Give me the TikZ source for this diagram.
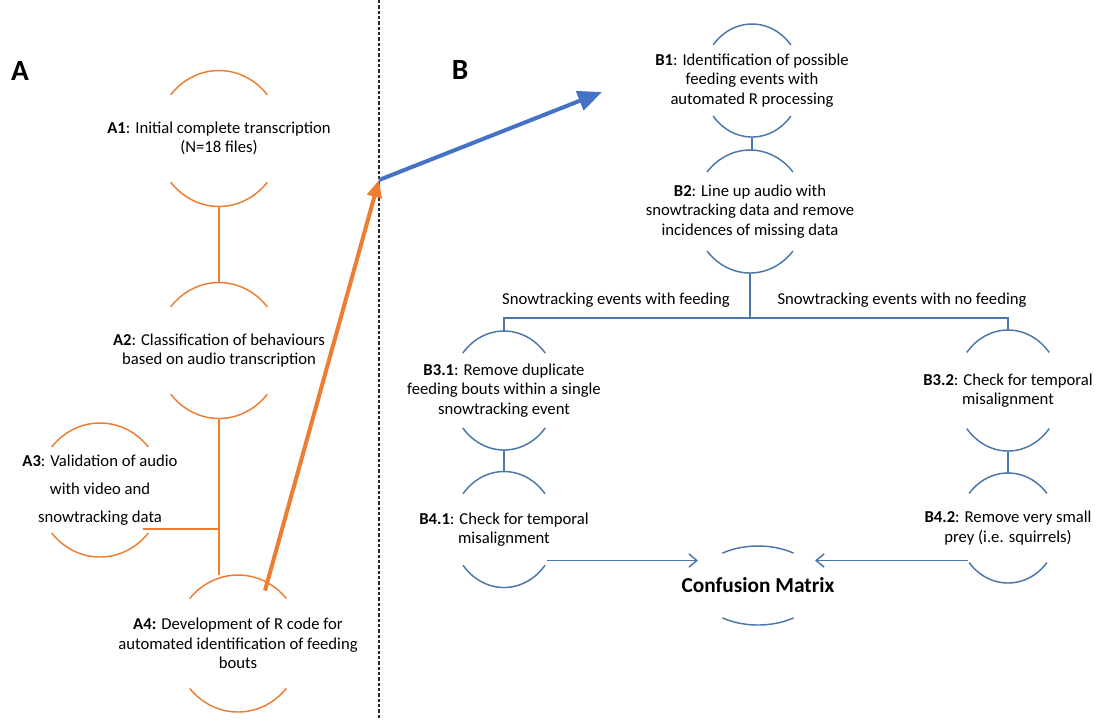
\documentclass[tikz,border=0pt]{standalone}
\usepackage{fontspec}
\setmainfont{Carlito}
\usetikzlibrary{arrows.meta}
\definecolor{orA}{HTML}{ED7D31}
\definecolor{blA}{HTML}{4472C4}
\definecolor{blL}{HTML}{4A76A8}
\newcommand\capshape[6]{%
 \begin{scope}[shift={(#1.center)}]
  \draw[#6, line width=1.1pt] plot[domain=#4:#5, samples=40, smooth] ({#2*cos(\x)},{-#3*sin(\x)});
  \draw[#6, line width=1.1pt] plot[domain=#4:#5, samples=40, smooth] ({#2*cos(\x)},{#3*sin(\x)});
  \coordinate (#1-top) at (0,-#3);
  \coordinate (#1-bot) at (0,#3);
 \end{scope}}
\begin{document}
\begin{tikzpicture}[x=0.75pt,y=-0.75pt,
  txt/.style={inner sep=0pt, align=center, font=\fontsize{12.5}{14.6}\selectfont, text=black},
  oline/.style={draw=orA, line width=1.1pt},
  bline/.style={draw=blL, line width=1.1pt},
  bigarrow/.style={line width=3pt},
  smallhead/.style={-{Straight Barb[length=6pt,width=10pt,line width=1.1pt]}}]
\useasboundingbox (0,0) rectangle (1102,719);
\fill[white] (0,0) rectangle (1102,719);

% divider
\coordinate (dtop) at (379,0);
\coordinate (dbot) at (379,719);
\draw[black!85, line width=0.9pt, dash pattern=on 2.4pt off 1.6pt] (dtop) -- (dbot);

% panel letters
\node[font=\fontsize{22}{26}\selectfont\bfseries] (LA) at (20,71) {A};
\node[font=\fontsize{22}{26}\selectfont\bfseries] (LB) at (460,70) {B};

% ---- panel A ----
\node[txt] (A1) at (219,138.5) {\textbf{A1}: Initial complete transcription\\(N=18 files)};
\node[txt] (A2) at (219,350.5) {\textbf{A2}: Classification of behaviours\\based on audio transcription};
\node[txt, font=\fontsize{12.5}{21}\selectfont] (A3) at (100,490) {\textbf{A3}: Validation of audio\\with video and\\snowtracking data};
\node[txt] (A4) at (238,643.5) {\textbf{A4:} Development of R code for\\automated identification of feeding\\bouts};
\capshape{A1}{63}{68}{40}{140}{orA}
\capshape{A2}{63}{68}{40}{140}{orA}
\capshape{A3}{63}{67}{40}{140}{orA}
\capshape{A4}{64}{68.5}{41}{139}{orA}

\draw[oline] (A1-bot) -- (A2-top);
\draw[oline] (A2-bot) -- (A2-bot |- A4-top);
\coordinate (A3e) at ([shift={(43,39)}]A3.center);
\draw[oline] (A3e) -- (A3e -| A2-bot);

% ---- panel B ----
\node[txt] (B1) at (752,80.5) {\textbf{B1}: Identification of possible\\feeding events with\\automated R processing};
\node[txt] (B2) at (750,211.5) {\textbf{B2}: Line up audio with\\snowtracking data and remove\\incidences of missing data};
\node[txt] (B31) at (504,390.5) {\textbf{B3.1}: Remove duplicate\\feeding bouts within a single\\snowtracking event};
\node[txt] (B41) at (504,529.5) {\textbf{B4.1}: Check for temporal\\misalignment};
\node[txt] (B32) at (1008,390.5) {\textbf{B3.2}: Check for temporal\\misalignment};
\node[txt] (B42) at (1008,528) {\textbf{B4.2}: Remove very small\\prey (i.e. squirrels)};
\node[txt, font=\fontsize{16}{19}\selectfont\bfseries] (CM) at (758,585.5) {Confusion Matrix};
\capshape{B1}{50}{56.5}{39}{141}{blL}
\capshape{B2}{56}{61.5}{40}{140}{blL}
\capshape{B31}{53}{59.5}{39}{141}{blL}
\capshape{B41}{52}{58}{38}{142}{blL}
\capshape{B32}{53}{60.5}{39}{141}{blL}
\capshape{B42}{50}{55}{39}{141}{blL}
\capshape{CM}{62}{39.5}{55}{125}{blL}

\node[txt] (lf) at (616,300) {Snowtracking events with feeding};
\node[txt] (ln) at (902,300) {Snowtracking events with no feeding};

\draw[bline] (B1-bot) -- (B1-bot |- B2-top);
\coordinate (bar) at (750,318);
\draw[bline] (B2-bot) -- (bar);
\draw[bline] (B31-top) -- (B31-top |- bar) -- (B32-top |- bar) -- (B32-top);
\draw[bline] (B31-bot) -- (B41-top);
\draw[bline] (B32-bot) -- (B42-top);
\coordinate (CMl) at ([shift={(-60,-25)}]CM.center);
\coordinate (CMr) at ([shift={(57,-25)}]CM.center);
\coordinate (B41e) at ([shift={(43,31)}]B41.center);
\coordinate (B42e) at ([shift={(-40,32.5)}]B42.center);
\draw[bline, smallhead] (B41e) -- (B41e -| CMl);
\draw[bline, smallhead] (B42e) -- (B42e -| CMr);

% ---- big arrows ----
\coordinate (hub) at (379,180);
\coordinate (btip) at (602,92);
\draw[orA, bigarrow, -{Triangle[length=13pt,width=11pt]}] ([shift={(27,-53)}]A4.center) -- (hub);
\draw[blA, bigarrow, -{Triangle[length=18pt,width=15pt]}] (hub) -- (btip);
\end{tikzpicture}
\end{document}
